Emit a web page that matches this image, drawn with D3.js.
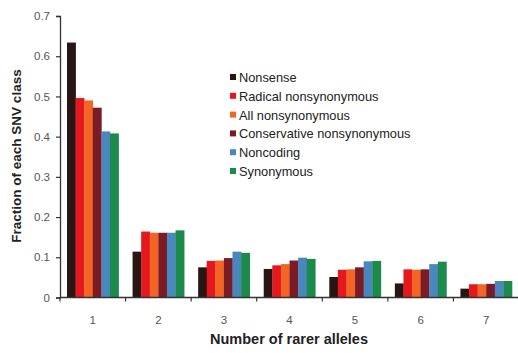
<!DOCTYPE html>
<html>
<head>
<meta charset="utf-8">
<script src="https://cdn.jsdelivr.net/npm/d3@7"></script>
<style>
  html, body { margin: 0; padding: 0; background: #fff; }
  svg { display: block; font-family: "Liberation Sans", Arial, sans-serif; }
</style>
</head>
<body>
<svg id="chart" width="518" height="353"></svg>
<script>
// Number of rarer alleles (x categories)
const categories = ["1", "2", "3", "4", "5", "6", "7"];

// SNV classes, in legend / bar order
const seriesNames = [
  "Nonsense",
  "Radical nonsynonymous",
  "All nonsynonymous",
  "Conservative nonsynonymous",
  "Noncoding",
  "Synonymous"
];
const seriesColors = ["#2a1515", "#e5191d", "#f26524", "#7a1b25", "#4a87bf", "#1b8a4b"];

// Fraction of each SNV class per allele count
const nonsense      = [0.634, 0.114, 0.075, 0.071, 0.051, 0.035, 0.022];
const radicalNonsyn = [0.496, 0.164, 0.091, 0.080, 0.069, 0.070, 0.033];
const allNonsyn     = [0.490, 0.161, 0.092, 0.083, 0.070, 0.069, 0.033];
const consNonsyn    = [0.472, 0.161, 0.098, 0.092, 0.075, 0.070, 0.034];
const noncoding     = [0.413, 0.161, 0.114, 0.099, 0.090, 0.083, 0.041];
const synonymous    = [0.408, 0.167, 0.111, 0.096, 0.091, 0.089, 0.041];
const seriesValues = [nonsense, radicalNonsyn, allNonsyn, consNonsyn, noncoding, synonymous];

const yTicks = [0, 0.1, 0.2, 0.3, 0.4, 0.5, 0.6, 0.7];
const yTickLabels = ["0", "0.1", "0.2", "0.3", "0.4", "0.5", "0.6", "0.7"];

const svg = d3.select("#chart");
const margin = { left: 60, right: 0, top: 16, bottom: 55 };
const y0 = 297.5;

const x = d3.scaleBand().domain(categories).range([margin.left, 519]).padding(0);
const xInner = d3.scaleBand().domain(seriesNames)
  .range([7, x.bandwidth() - 7]).padding(0);
const y = d3.scaleLinear().domain([0, 0.7]).range([y0, 16]);

// Bars
const groups = svg.append("g").selectAll("g")
  .data(categories)
  .join("g")
  .attr("transform", d => `translate(${x(d)},0)`);

groups.selectAll("rect")
  .data((c, i) => seriesNames.map((s, k) => ({ s, k, v: seriesValues[k][i] })))
  .join("rect")
  .attr("x", d => xInner(d.s))
  .attr("width", xInner.bandwidth() + 0.3)
  .attr("y", d => y(d.v))
  .attr("height", d => y0 - y(d.v))
  .attr("fill", d => seriesColors[d.k]);

// Y axis
const yAxis = svg.append("g")
  .attr("transform", `translate(${margin.left},0)`)
  .call(d3.axisLeft(y).tickValues(yTicks).tickFormat((d, i) => yTickLabels[i]).tickSize(4).tickPadding(6));
yAxis.select(".domain").attr("stroke", "#333").attr("stroke-width", 1.3);
yAxis.selectAll(".tick line").attr("stroke", "#333").attr("stroke-width", 1.2);
yAxis.selectAll(".tick text").attr("fill", "#555").style("font-size", "11.5px");

// X axis: ticks between categories
const xAxisG = svg.append("g").attr("transform", `translate(0,${y0})`);
xAxisG.append("line")
  .attr("x1", margin.left).attr("x2", 519)
  .attr("stroke", "#333").attr("stroke-width", 1.3);
const boundaries = categories.map(c => x(c)).concat([x(categories[categories.length - 1]) + x.bandwidth()]);
xAxisG.selectAll(".bt").data(boundaries).join("line")
  .attr("x1", d => d).attr("x2", d => d)
  .attr("y1", 0).attr("y2", 4)
  .attr("stroke", "#333").attr("stroke-width", 1.2);
xAxisG.selectAll(".cl").data(categories).join("text")
  .attr("x", d => x(d) + x.bandwidth() / 2)
  .attr("y", 26)
  .attr("text-anchor", "middle")
  .attr("fill", "#555")
  .style("font-size", "11.5px")
  .text(d => d);

// Axis titles
svg.append("text")
  .attr("x", 289).attr("y", 344)
  .attr("text-anchor", "middle")
  .style("font-size", "14.5px").style("font-weight", "bold")
  .attr("fill", "#222")
  .text("Number of rarer alleles");

svg.append("text")
  .attr("transform", "translate(21,156) rotate(-90)")
  .attr("text-anchor", "middle")
  .style("font-size", "13.5px").style("font-weight", "bold")
  .attr("fill", "#222")
  .text("Fraction of each SNV class");

// Legend
const legend = svg.append("g").attr("transform", "translate(230,77.5)");
const items = legend.selectAll("g").data(seriesNames).join("g")
  .attr("transform", (d, i) => `translate(0,${i * 18.8})`);
items.append("rect")
  .attr("x", 0).attr("y", -3.5).attr("width", 6).attr("height", 6)
  .attr("fill", (d, i) => seriesColors[i]);
items.append("text")
  .attr("x", 9).attr("y", 0).attr("dy", "0.35em")
  .style("font-size", "12.8px")
  .attr("fill", "#222")
  .text(d => d);
</script>
</body>
</html>
